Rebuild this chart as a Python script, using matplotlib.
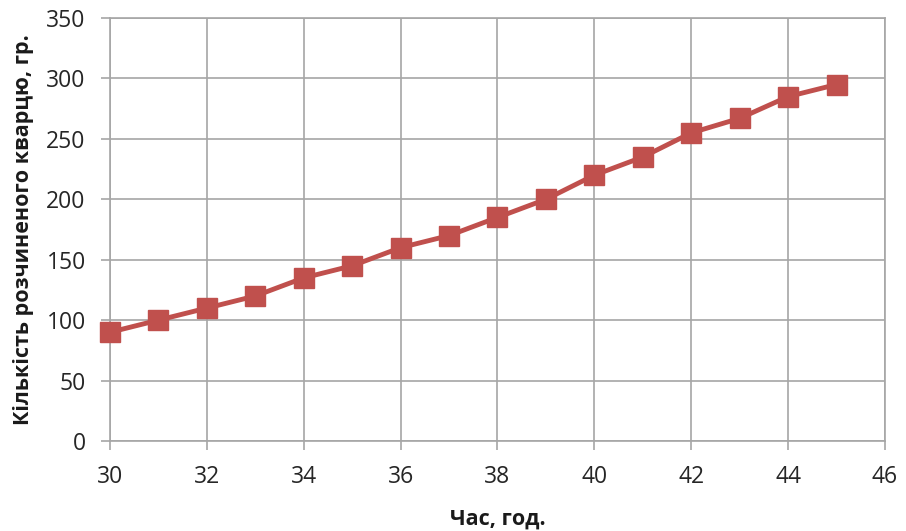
import matplotlib
matplotlib.use("Agg")
import matplotlib.pyplot as plt

# Dissolved quartz over time
hours = [30, 31, 32, 33, 34, 35, 36, 37, 38, 39, 40, 41, 42, 43, 44, 45]
quartz = [90, 100, 110, 120, 135, 145, 160, 170, 185, 200, 220, 235, 255, 267, 285, 295]

x_ticks = [30, 32, 34, 36, 38, 40, 42, 44, 46]
y_ticks = [0, 50, 100, 150, 200, 250, 300, 350]

plt.rcParams['font.family'] = ['Open Sans', 'DejaVu Sans']

fig = plt.figure(figsize=(9.06, 5.31), dpi=100)
ax = fig.add_axes([0.1214, 0.1695, 0.8554, 0.7965])

grid_c = '#a6a6a6'
ax.plot(hours, quartz, color='#c0504d', linewidth=3.5, marker='s',
        markersize=15, markerfacecolor='#c0504d', markeredgecolor='#c0504d',
        zorder=3, clip_on=False)

ax.set_xlim(30, 46)
ax.set_ylim(0, 350)
ax.set_xticks(x_ticks)
ax.set_yticks(y_ticks)
ax.grid(True, color=grid_c, linewidth=1.2)
ax.set_axisbelow(True)

for s in ax.spines.values():
    s.set_color(grid_c)
    s.set_linewidth(1.2)

ax.tick_params(axis='both', direction='out', length=6.5, width=1.2, color=grid_c,
               labelsize=16.5, labelcolor='#262626')
ax.tick_params(axis='x', pad=11)
ax.tick_params(axis='y', pad=11)

ax.set_xlabel('Час, год.', fontsize=15.5, fontweight='bold', color='#1a1a1a', labelpad=14)
ax.set_ylabel('Кількість розчиненого кварцю, гр.', fontsize=15.5, fontweight='bold',
              color='#1a1a1a', labelpad=9)

fig.savefig('out.png', dpi=100)
